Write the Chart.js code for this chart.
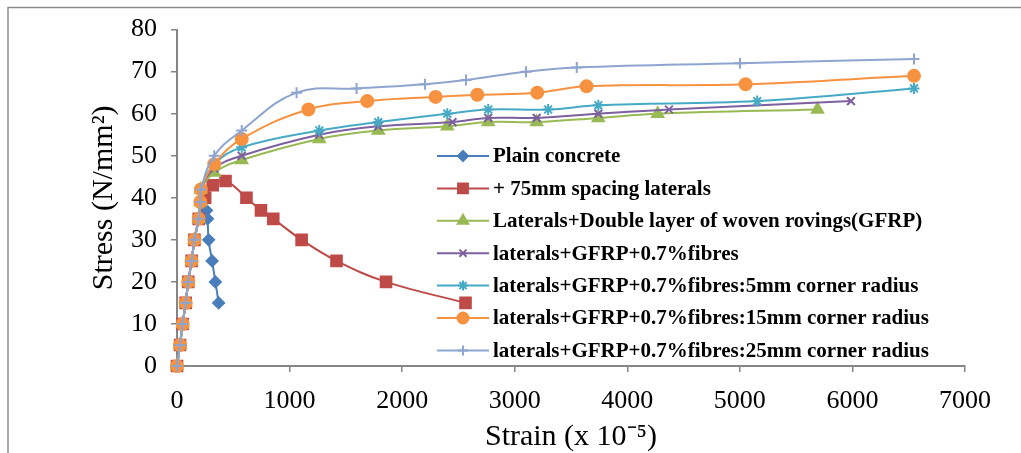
<!DOCTYPE html>
<html>
<head>
<meta charset="utf-8">
<script src="https://cdn.jsdelivr.net/npm/chart.js@4/dist/chart.umd.min.js"></script>
<style>
  html, body { margin: 0; padding: 0; background: #fff; }
  #wrap { width: 1021px; height: 453px; position: relative; }
</style>
</head>
<body>
<div id="wrap"><canvas id="grafico"></canvas></div>
<script>
// Datos: deformacion (x 10^-5) y tension (N/mm2)
const plainStrain  = [0, 27, 50, 77, 100, 130, 155, 193, 210, 262, 271, 281, 312, 341, 370];
const plainStress  = [0, 5, 10, 15, 20, 25, 30, 35, 39, 37, 35, 30, 25, 20, 15];

const lat75Strain  = [0, 27, 50, 77, 100, 130, 155, 193, 250, 317, 431, 617, 746, 855, 1107, 1417, 1857, 2563];
const lat75Stress  = [0, 5, 10, 15, 20, 25, 30, 35, 40, 43, 44, 40, 37, 35, 30, 25, 20, 15];

const gfrpStrain   = [0, 27, 50, 77, 100, 130, 155, 193, 208, 212, 331, 575, 1264, 1788, 2401, 2765, 3195, 3743, 4270, 5690];
const gfrpStress   = [0, 5, 10, 15, 20, 25, 30, 35, 39, 42, 46, 49, 54, 56, 57, 58, 58, 59, 60, 61];

const fibStrain    = [0, 27, 50, 77, 100, 130, 155, 193, 208, 212, 331, 575, 1264, 1788, 2447, 2765, 3195, 3743, 4370, 5987];
const fibStress    = [0, 5, 10, 15, 20, 25, 30, 35, 39, 42, 47, 50, 55, 57, 58, 59, 59, 60, 61, 63];

const r5Strain     = [0, 27, 50, 77, 100, 130, 155, 193, 208, 212, 331, 575, 1264, 1788, 2401, 2765, 3297, 3743, 5154, 6547];
const r5Stress     = [0, 5, 10, 15, 20, 25, 30, 35, 39, 42, 48, 52, 56, 58, 60, 61, 61, 62, 63, 66];

const r15Strain    = [0, 27, 50, 77, 100, 130, 155, 193, 208, 212, 331, 575, 1167, 1690, 2297, 2668, 3200, 3638, 5051, 6547];
const r15Stress    = [0, 5, 10, 15, 20, 25, 30, 35, 39, 42, 48, 54, 61, 63, 64, 64.5, 65, 66.5, 67, 69];

const r25Strain    = [0, 27, 50, 77, 100, 130, 155, 193, 208, 212, 331, 575, 1062, 1595, 2203, 2567, 3100, 3551, 5001, 6547];
const r25Stress    = [0, 5, 10, 15, 20, 25, 30, 35, 39, 42, 50, 56, 65, 66, 67, 68, 70, 71, 72, 73];

const xTicks = [0, 1000, 2000, 3000, 4000, 5000, 6000, 7000];
const yTicks = [0, 10, 20, 30, 40, 50, 60, 70, 80];

const series = [
  { label: "Plain concrete", x: plainStrain, y: plainStress, color: "#4A7EBB", style: "rectRot", r: 5.5 },
  { label: "+ 75mm spacing laterals", x: lat75Strain, y: lat75Stress, color: "#BE4B48", style: "rect", r: 7.5 },
  { label: "Laterals+Double layer of woven rovings(GFRP)", x: gfrpStrain, y: gfrpStress, color: "#98B954", style: "triangle", r: 6.5 },
  { label: "laterals+GFRP+0.7%fibres", x: fibStrain, y: fibStress, color: "#7D60A0", style: "crossRot", r: 5.5 },
  { label: "laterals+GFRP+0.7%fibres:5mm corner radius", x: r5Strain, y: r5Stress, color: "#46AAC5", style: "star", r: 5.5 },
  { label: "laterals+GFRP+0.7%fibres:15mm corner radius", x: r15Strain, y: r15Stress, color: "#F69240", style: "circle", r: 6 },
  { label: "laterals+GFRP+0.7%fibres:25mm corner radius", x: r25Strain, y: r25Stress, color: "#8EA5CF", style: "cross", r: 5.5 }
];

const FONT = "'Liberation Serif', 'Times New Roman', serif";

// marco gris alrededor de la figura
const marco = {
  id: "marco",
  beforeDraw(chart) {
    const c = chart.ctx;
    c.save();
    c.strokeStyle = "#8c8c8c";
    c.lineWidth = 1.5;
    c.beginPath();
    c.moveTo(8, 453);
    c.lineTo(8, 7.5);
    c.lineTo(1021, 7.5);
    c.stroke();
    c.restore();
  }
};

// leyenda dentro del area del grafico
const leyenda = {
  id: "leyenda",
  afterDraw(chart) {
    const c = chart.ctx;
    const x0 = 437, y0 = 156, paso = 32.4;
    c.save();
    c.font = "bold 21px " + FONT;
    c.textBaseline = "middle";
    series.forEach((s, i) => {
      const y = y0 + i * paso;
      c.strokeStyle = s.color;
      c.lineWidth = 2;
      c.beginPath();
      c.moveTo(x0, y);
      c.lineTo(x0 + 52, y);
      c.stroke();
      c.fillStyle = s.color;
      Chart.helpers.drawPoint(c, { pointStyle: s.style, radius: s.r - 0.5, borderWidth: 2, rotation: 0 }, x0 + 26, y);
      c.fillStyle = "#000";
      c.fillText(s.label, x0 + 56, y + 1);
    });
    c.restore();
  }
};

new Chart(document.getElementById("grafico").getContext("2d"), {
  type: "line",
  data: {
    datasets: series.map((s, i) => ({
      label: s.label,
      data: s.x.map((v, k) => ({ x: v, y: s.y[k] })),
      borderColor: s.color,
      backgroundColor: s.color,
      borderWidth: 2,
      pointStyle: s.style,
      pointRadius: s.r,
      pointBorderWidth: 2,
      tension: 0.4,
      clip: false,
      order: series.length - i
    }))
  },
  options: {
    responsive: true,
    maintainAspectRatio: false,
    animation: false,
    layout: { padding: { left: 0, right: 56, top: 22, bottom: 0 } },
    plugins: { legend: { display: false }, tooltip: { enabled: false } },
    scales: {
      x: {
        type: "linear",
        min: 0, max: 7000,
        afterBuildTicks: sc => { sc.ticks = xTicks.map(v => ({ value: v })); },
        afterFit: sc => { sc.height = 87; },
        border: { color: "#868686", width: 2 },
        grid: { drawOnChartArea: false, drawTicks: true, tickLength: 6, color: "#868686", lineWidth: 1.5 },
        ticks: { color: "#000", font: { family: FONT, size: 26 }, padding: 14, maxRotation: 0, callback: v => String(v) },
        title: { display: true, text: "Strain (x 10⁻⁵)", color: "#000", font: { family: FONT, size: 30, lineHeight: 1 }, padding: { bottom: 1, top: 0 } }
      },
      y: {
        type: "linear",
        min: 0, max: 80,
        afterBuildTicks: sc => { sc.ticks = yTicks.map(v => ({ value: v })); },
        afterFit: sc => { sc.width = 177; },
        border: { color: "#868686", width: 2 },
        grid: { drawOnChartArea: false, drawTicks: true, tickLength: 6, color: "#868686", lineWidth: 1.5 },
        ticks: { color: "#000", font: { family: FONT, size: 26 }, padding: 14, callback: v => String(v) },
        title: { display: true, text: "Stress (N/mm²)", color: "#000", font: { family: FONT, size: 30, lineHeight: 1 }, padding: { top: 89, bottom: 0 } }
      }
    }
  },
  plugins: [marco, leyenda]
});
</script>
</body>
</html>
